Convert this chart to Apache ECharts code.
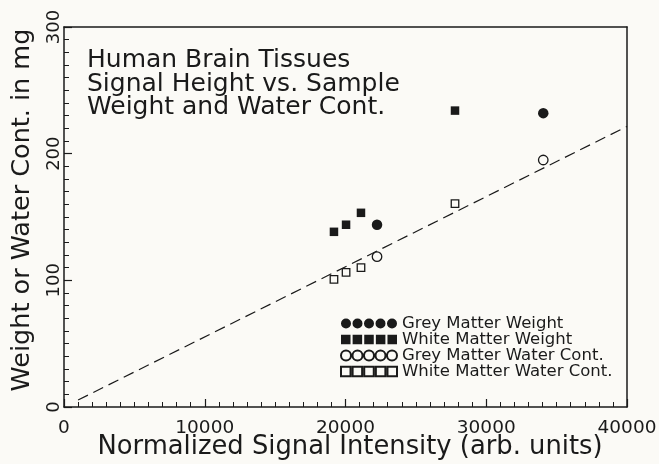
<!DOCTYPE html>
<html>
<head>
<meta charset="utf-8">
<script src="https://cdn.jsdelivr.net/npm/echarts@6/dist/echarts.min.js"></script>
<style>
  html, body { margin: 0; padding: 0; background: #fbfaf6; }
  #chart { width: 659px; height: 464px; }
</style>
</head>
<body>
<div id="chart"></div>
<script>
// values
var xTicks = [0, 10000, 20000, 30000, 40000];
var yTicks = [0, 100, 200, 300];
var seriesNames = ['Grey Matter Weight', 'White Matter Weight', 'Grey Matter Water Cont.', 'White Matter Water Cont.'];
var greyWeight = [[22240, 143.9], [34050, 232]];
var whiteWeight = [[19180, 138.3], [20040, 143.9], [21100, 153.3], [27780, 234]];
var greyWater = [[22240, 118.7], [34050, 195]];
var whiteWater = [[19180, 100.8], [20040, 106.3], [21100, 110], [27780, 160.6]];
var fitLine = [[1000, 5.5], [40000, 221.5]];
var titleLines = ['Human Brain Tissues', 'Signal Height vs. Sample', 'Weight and Water Cont.'];

var ink = '#1a1a1a';
var paper = '#fbfaf6';
var font = 'DejaVu Sans';

// five markers in a row for the legend keys
var dots = 'path://M0,5a5,5 0 1,0 10,0a5,5 0 1,0 -10,0'
    + 'M11.5,5a5,5 0 1,0 10,0a5,5 0 1,0 -10,0'
    + 'M23,5a5,5 0 1,0 10,0a5,5 0 1,0 -10,0'
    + 'M34.5,5a5,5 0 1,0 10,0a5,5 0 1,0 -10,0'
    + 'M46,5a5,5 0 1,0 10,0a5,5 0 1,0 -10,0';
var boxes = 'path://M0,0h9.5v9.5h-9.5z M11.6,0h9.5v9.5h-9.5z M23.2,0h9.5v9.5h-9.5z M34.8,0h9.5v9.5h-9.5z M46.4,0h9.5v9.5h-9.5z';

var chart = echarts.init(document.getElementById('chart'));

function scatter(name, data, symbol, size, hollow) {
    return {
        name: name,
        type: 'scatter',
        data: data,
        symbol: symbol,
        symbolSize: size,
        itemStyle: hollow
            ? {color: paper, borderColor: ink, borderWidth: 1.3, opacity: 1}
            : {color: ink, borderColor: ink, borderWidth: 0, opacity: 1},
        z: 3
    };
}

function plain(v) {
    return String(v);
}

// top and right edges of the box: bare lines, no ticks or labels
function frameAxis(position, ticks) {
    return {
        type: 'value',
        position: position,
        min: ticks[0],
        max: ticks[ticks.length - 1],
        axisLine: {show: true, onZero: false, lineStyle: {color: ink, width: 1.5}},
        axisTick: {show: false},
        axisLabel: {show: false},
        splitLine: {show: false}
    };
}

var tickStyle = {show: true, inside: true, length: 8, lineStyle: {color: ink, width: 1.2}};
var minorStyle = {show: true, splitNumber: 10, length: 5, lineStyle: {color: ink, width: 1}};

var option = {
    backgroundColor: paper,
    animation: false,
    title: {
        text: titleLines.join('\n'),
        left: 87,
        top: 49,
        padding: 0,
        textStyle: {fontFamily: font, fontSize: 25, fontWeight: 'normal', color: ink, lineHeight: 23.5}
    },
    legend: {
        orient: 'vertical',
        left: 340,
        top: 315,
        padding: 0,
        itemWidth: 56,
        itemHeight: 10,
        itemGap: -1,
        textStyle: {fontFamily: font, fontSize: 16.5, color: ink, lineHeight: 16},
        data: [
            {name: seriesNames[0], icon: dots},
            {name: seriesNames[1], icon: boxes},
            {name: seriesNames[2], icon: dots},
            {name: seriesNames[3], icon: boxes}
        ]
    },
    grid: {
        left: 64, right: 32, top: 27, bottom: 57,
        outerBoundsMode: 'none',
        show: false
    },
    xAxis: [{
        type: 'value',
        position: 'bottom',
        min: xTicks[0],
        max: xTicks[xTicks.length - 1],
        interval: 10000,
        name: 'Normalized Signal Intensity (arb. units)',
        nameLocation: 'middle',
        nameGap: 27,
        nameMoveOverlap: false,
        nameTextStyle: {fontFamily: font, fontSize: 25.8, color: ink, padding: [0, 0, 0, 9]},
        axisLine: {show: true, onZero: false, lineStyle: {color: ink, width: 1.5}},
        axisTick: tickStyle,
        minorTick: minorStyle,
        axisLabel: {fontFamily: font, fontSize: 18.5, color: ink, margin: 12, formatter: plain},
        splitLine: {show: false}
    }, frameAxis('top', xTicks)],
    yAxis: [{
        type: 'value',
        position: 'left',
        min: yTicks[0],
        max: yTicks[yTicks.length - 1],
        interval: 100,
        name: 'Weight or Water Cont. in mg',
        nameLocation: 'middle',
        nameGap: 29,
        nameMoveOverlap: false,
        nameTextStyle: {fontFamily: font, fontSize: 25.5, color: ink, padding: [0, 0, 0, 14]},
        axisLine: {show: true, onZero: false, lineStyle: {color: ink, width: 1.5}},
        axisTick: tickStyle,
        minorTick: minorStyle,
        axisLabel: {fontFamily: font, fontSize: 18, color: ink, rotate: 90, margin: 1, formatter: plain},
        splitLine: {show: false}
    }, frameAxis('right', yTicks)],
    series: [
        {
            type: 'line',
            data: fitLine,
            symbol: 'none',
            silent: true,
            lineStyle: {color: ink, width: 1.2, type: [11, 6]},
            z: 2
        },
        scatter(seriesNames[0], greyWeight, 'circle', 10.5, false),
        scatter(seriesNames[1], whiteWeight, 'rect', 8.5, false),
        scatter(seriesNames[2], greyWater, 'circle', 9.5, true),
        scatter(seriesNames[3], whiteWater, 'rect', 7.5, true)
    ]
};

chart.setOption(option);
</script>
</body>
</html>
